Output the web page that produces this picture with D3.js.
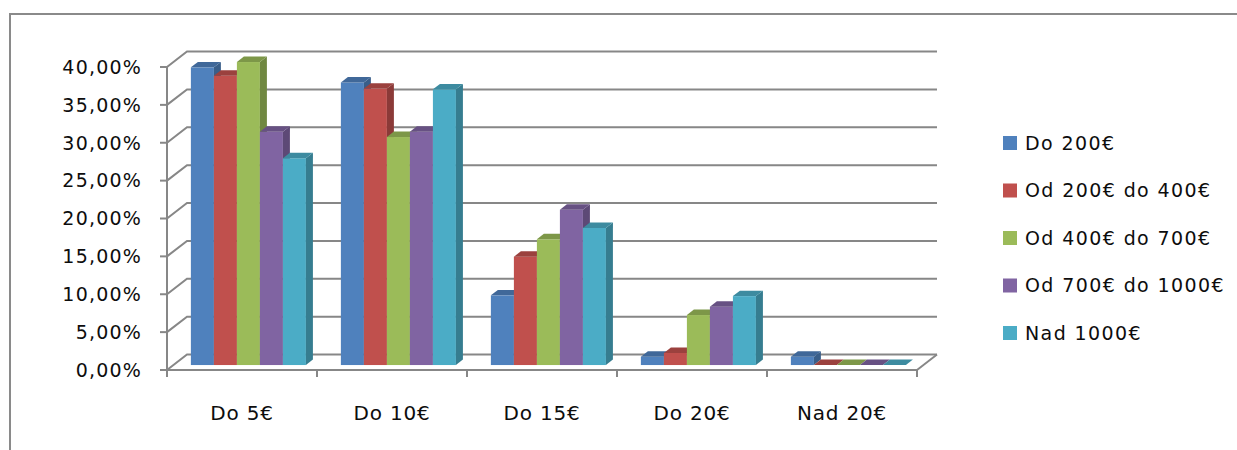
<!DOCTYPE html>
<html>
<head>
<meta charset="utf-8">
<script src="https://cdn.jsdelivr.net/npm/d3@7"></script>
<style>
  html, body { margin: 0; padding: 0; background: #fff; }
  text { font-family: "DejaVu Sans", sans-serif; fill: #0d0d0d; }
</style>
</head>
<body>
<div id="chart"></div>
<script>
const categories = ["Do 5€", "Do 10€", "Do 15€", "Do 20€", "Nad 20€"];
const seriesNames = ["Do 200€", "Od 200€ do 400€", "Od 400€ do 700€", "Od 700€ do 1000€", "Nad 1000€"];
const colors = ["#4F81BD", "#C0504D", "#9BBB59", "#8064A2", "#4BACC6"];

const do200 = [39.3, 37.3, 9.2, 1.1, 1.1];
const od200do400 = [38.2, 36.5, 14.3, 1.6, 0];
const od400do700 = [40.0, 30.1, 16.6, 6.6, 0];
const od700do1000 = [30.8, 30.8, 20.5, 7.7, 0];
const nad1000 = [27.3, 36.4, 18.1, 9.1, 0];
const seriesValues = [do200, od200do400, od400do700, od700do1000, nad1000];

const yTicks = [0, 5, 10, 15, 20, 25, 30, 35, 40];

const width = 1237, height = 450;
// depth of the 3D box (back wall offset)
const depthX = 20, depthY = -15.5;
const barT0 = 0.32, barT1 = 0.67;

const svg = d3.select("#chart").append("svg")
  .attr("width", width)
  .attr("height", height);

// outer frame
svg.append("path")
  .attr("d", `M10,${height} L10,14 L${width},14`)
  .attr("fill", "none")
  .attr("stroke", "#8a8a8a")
  .attr("stroke-width", 2);

const x0 = d3.scaleBand()
  .domain(categories)
  .range([167, 917]);

const x1 = d3.scaleBand()
  .domain(seriesNames)
  .range([0, x0.bandwidth()])
  .paddingInner(0)
  .paddingOuter(0.76);

const y = d3.scaleLinear()
  .domain([0, 40])
  .range([370, 67]);

const fmt = v => d3.format(".2f")(v).replace(".", ",") + "%";

// project a point at depth t (0 = front, 1 = back)
const P = (px, v, t) => [px + depthX * t, y(v) + depthY * t];
const poly = pts => "M" + pts.map(p => p.join(",")).join("L") + "Z";

const xLeft = x0.range()[0], xRight = x0.range()[1];
const grid = svg.append("g");

// floor
grid.append("path")
  .attr("d", poly([P(xLeft, 0, 0), P(xRight, 0, 0), P(xRight, 0, 1), P(xLeft, 0, 1)]))
  .attr("fill", "#fff")
  .attr("stroke", "none");

// back wall gridlines + side diagonals
yTicks.forEach(t => {
  const a = P(xLeft, t, 0), b = P(xLeft, t, 1), c = P(xRight, t, 1);
  grid.append("path")
    .attr("d", `M${a}L${b}L${c}`)
    .attr("fill", "none")
    .attr("stroke", "#878787")
    .attr("stroke-width", 2);
});

// right floor edge
grid.append("path")
  .attr("d", `M${P(xRight, 0, 0)}L${P(xRight, 0, 1)}`)
  .attr("stroke", "#878787")
  .attr("stroke-width", 2);

// bars
const bars = svg.append("g");
categories.forEach((cat, ci) => {
  seriesNames.forEach((s, si) => {
    const v = seriesValues[si][ci];
    const bx = x0(cat) + x1(s);
    const bw = x1.bandwidth();
    const base = d3.color(colors[si]);
    const side = base.darker(0.9).formatHex();
    const top = base.darker(0.6).formatHex();

    // front face
    const f0 = P(bx, v, barT0), f1 = P(bx + bw, 0, barT0);
    bars.append("rect")
      .attr("x", f0[0])
      .attr("y", f0[1])
      .attr("width", bw)
      .attr("height", Math.max(0, f1[1] - f0[1]))
      .attr("fill", colors[si]);

    // side face
    bars.append("path")
      .attr("d", poly([P(bx + bw, v, barT0), P(bx + bw, 0, barT0), P(bx + bw, 0, barT1), P(bx + bw, v, barT1)]))
      .attr("fill", side);

    // top face
    bars.append("path")
      .attr("d", poly([P(bx, v, barT0), P(bx + bw, v, barT0), P(bx + bw, v, barT1), P(bx, v, barT1)]))
      .attr("fill", top);
  });
});

// front axes
const axes = svg.append("g").attr("stroke", "#878787").attr("stroke-width", 2).attr("fill", "none");
axes.append("path").attr("d", `M${xLeft},${y(40)}L${xLeft},${y(0)}L${xRight},${y(0)}`);
yTicks.forEach(t => {
  axes.append("path").attr("d", `M${xLeft - 7},${y(t)}L${xLeft},${y(t)}`);
});
categories.concat([null]).forEach(c => {
  const xx = c ? x0(c) : xRight;
  axes.append("path").attr("d", `M${xx},${y(0)}L${xx},${y(0) + 7}`);
});

// y labels
svg.append("g").selectAll("text")
  .data(yTicks)
  .enter().append("text")
  .attr("x", 142)
  .attr("y", d => y(d))
  .attr("dy", "0.36em")
  .attr("text-anchor", "end")
  .attr("font-size", 19)
  .attr("letter-spacing", 1.2)
  .text(fmt);

// x labels
svg.append("g").selectAll("text")
  .data(categories)
  .enter().append("text")
  .attr("x", d => x0(d) + x0.bandwidth() / 2)
  .attr("y", 420)
  .attr("text-anchor", "middle")
  .attr("font-size", 20)
  .attr("letter-spacing", 0.8)
  .text(d => d);

// legend
const legend = svg.append("g").attr("transform", "translate(1003,143)");
const row = legend.selectAll("g")
  .data(seriesNames)
  .enter().append("g")
  .attr("transform", (d, i) => `translate(0,${i * 47.5})`);
row.append("rect")
  .attr("x", 0)
  .attr("y", -7)
  .attr("width", 14)
  .attr("height", 14)
  .attr("fill", (d, i) => colors[i]);
row.append("text")
  .attr("x", 22)
  .attr("y", 0)
  .attr("dy", "0.36em")
  .attr("font-size", 19)
  .attr("letter-spacing", 1.4)
  .text(d => d);
</script>
</body>
</html>
